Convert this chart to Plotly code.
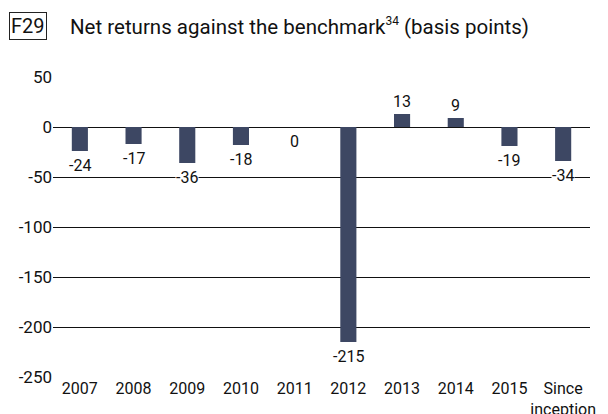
import plotly.graph_objects as go

categories = ["2007", "2008", "2009", "2010", "2011", "2012", "2013", "2014", "2015", "Since<br>inception"]
values = [-24, -17, -36, -18, 0, -215, 13, 9, -19, -34]
y_ticks = [50, 0, -50, -100, -150, -200, -250]

BAR = "#3d4763"
FONT = "Roboto"

fig = go.Figure(go.Bar(
    x=categories,
    y=values,
    marker_color=BAR,
    marker_line_width=0,
    width=0.3,
))

# value labels: below the bar for negatives / zero, above for positives
# (x given as category index, year strings would be read as indices)
for i, val in enumerate(values):
    fig.add_annotation(
        x=i, y=val, text=str(val),
        showarrow=False,
        yshift=13 if val > 0 else -14,
        bgcolor="white",
        borderpad=0,
        font=dict(family=FONT, size=16, color="#111"),
    )

# title block
fig.add_annotation(
    xref="paper", yref="paper", x=-0.082, y=1.17, xanchor="left", yanchor="middle",
    text="F29", showarrow=False, bordercolor="#222", borderwidth=1, borderpad=1,
    font=dict(family=FONT, size=20, color="#111"),
)
fig.add_annotation(
    xref="paper", yref="paper", x=0.028, y=1.17, xanchor="left", yanchor="middle",
    text="Net returns against the benchmark<sup><span style='font-size:12px'>34</span></sup> (basis points)",
    showarrow=False,
    font=dict(family=FONT, size=20.5, color="#111"),
)

# page body has an 8px margin, so the figure is 8px smaller and shifted
fig.update_layout(
    width=600, height=406,
    margin=dict(l=45, r=18, t=69, b=37),
    paper_bgcolor="white", plot_bgcolor="white",
    showlegend=False,
    font=dict(family=FONT, size=16, color="#111"),
)
fig.update_yaxes(
    range=[-250, 50], tickvals=y_ticks, ticktext=[str(v) for v in y_ticks],
    showgrid=True, gridcolor="#111", gridwidth=1,
    zeroline=True, zerolinecolor="#111", zerolinewidth=1,
    ticks="", automargin=False,
    tickfont=dict(size=17),
)
fig.update_xaxes(
    type="category", range=[-0.5, 9.5],
    showgrid=False, showline=False, ticks="", automargin=False,
    tickfont=dict(size=16),
)

fig.write_html("out.html")
